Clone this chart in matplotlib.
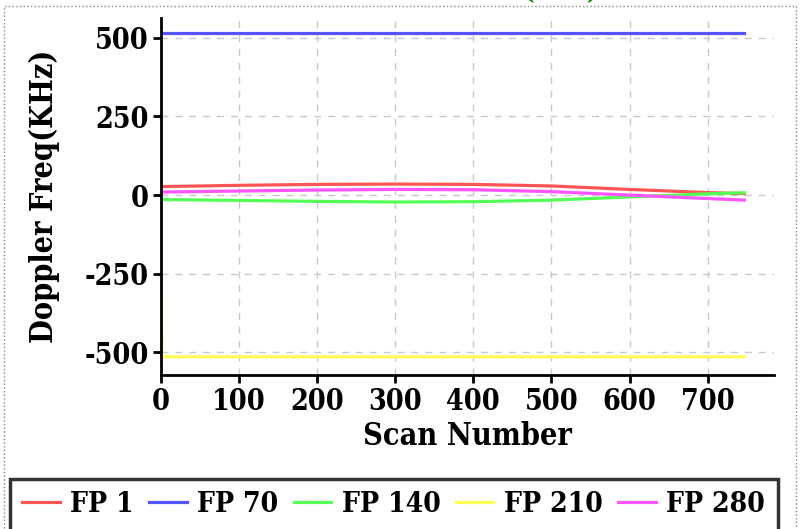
import numpy as np
import matplotlib
matplotlib.use("Agg")
import matplotlib.pyplot as plt
from matplotlib.patches import Rectangle
from matplotlib import font_manager

plt.rcParams['font.family'] = ['DejaVu Serif']
plt.rcParams['font.weight'] = 'bold'
plt.rcParams['axes.labelweight'] = 'bold'
plt.rcParams['axes.unicode_minus'] = False

# use the condensed cut when the system has it (text in the chart looks narrow)
have_cond = any('Condensed' in f.fname and 'Serif' in f.fname for f in font_manager.fontManager.ttflist)
if have_cond:
    plt.rcParams['font.stretch'] = 'condensed'
k = 1.1 if have_cond else 1.0

scans = [0, 100, 200, 300, 400, 500, 600, 700, 747]
fp1 = [27, 31, 34, 35, 34, 29, 18, 8, 4.5]
fp70 = [515, 515, 515, 515, 515, 515, 515, 515, 515]
fp140 = [-14, -17, -20, -22, -21, -16, -6, 4, 7.5]
fp210_scans = [0, 1, 100, 200, 300, 400, 500, 600, 700, 747]
fp210 = [20, -514, -514, -514, -514, -514, -514, -514, -514, -514]
fp280 = [9.5, 13, 16, 18, 17, 11, 0, -11, -16]

names = ['FP 1', 'FP 70', 'FP 140', 'FP 210', 'FP 280']
colors = ['#ff5555', '#5555ff', '#55ff55', '#ffff55', '#ff55ff']

fig = plt.figure(figsize=(8.02, 5.29), dpi=100)
ax = fig.add_axes([161/802, 1-375/529, (774-161)/802, (375-18)/529])

ax.plot(scans, fp1, color=colors[0], lw=2.3, label=names[0])
ax.plot(scans, fp70, color=colors[1], lw=2.3, label=names[1])
ax.plot(scans, fp140, color=colors[2], lw=2.3, label=names[2])
ax.plot(fp210_scans, fp210, color=colors[3], lw=2.3, label=names[3])
ax.plot(scans, fp280, color=colors[4], lw=2.3, label=names[4])

ax.set_xlim(0, 785)
ax.set_ylim(-572, 563)
ax.set_xticks(range(0, 701, 100))
ax.set_yticks([-500, -250, 0, 250, 500])
ax.grid(True, color='#c8c8c8', ls=(0, (5, 5)), lw=1)
ax.set_axisbelow(True)

for s in ['top', 'right']:
    ax.spines[s].set_visible(False)
for s in ['left', 'bottom']:
    ax.spines[s].set_linewidth(2)
ax.tick_params(labelsize=18.7*k, width=2, length=6, pad=3)

ax.set_xlabel('Scan Number', fontsize=20*k)
ax.set_ylabel('Doppler Freq(KHz)', fontsize=20*k)
ax.xaxis.set_label_coords(0.5, -0.13)
ax.yaxis.set_label_coords(-0.165, 0.5)

leg = fig.legend(loc='upper left', bbox_to_anchor=(10/802, 1-479/529),
                 ncol=5, fontsize=18.5*k, frameon=True, fancybox=False,
                 handlelength=1.45/k, handletextpad=0.42/k, columnspacing=0.6/k,
                 borderpad=0.48/k, borderaxespad=0)
leg.get_frame().set_edgecolor('black')
leg.get_frame().set_linewidth(2.5)
for h in leg.get_lines():
    h.set_linewidth(2.3)

# dotted outer border of the panel
fig.patches.append(Rectangle((4/802, -0.1), 792/802, 1.1-6/529, transform=fig.transFigure,
                             fill=False, ls=':', lw=1, ec='#888888'))
fig.text(0.70, 1-4/529, '(KHz)', color='green', fontsize=18, ha='center', va='bottom')

fig.savefig('out.png', dpi=100)
